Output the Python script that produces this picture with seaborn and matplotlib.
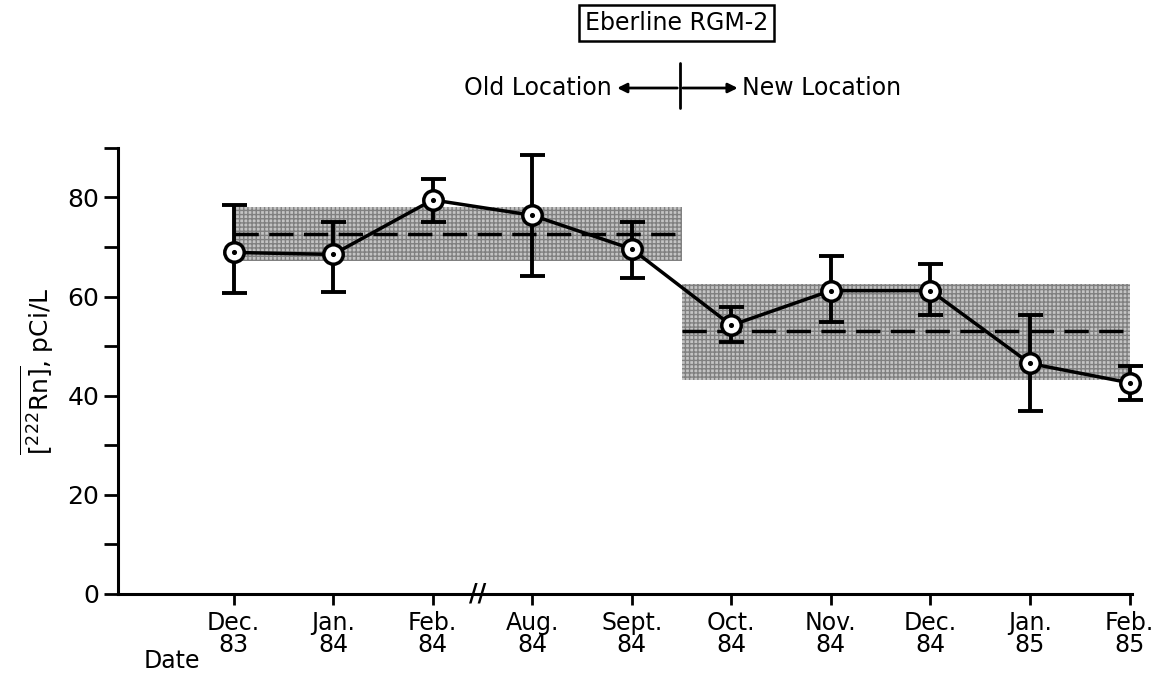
import numpy as np
import pandas as pd
import matplotlib
matplotlib.use("Agg")
import matplotlib.pyplot as plt
import seaborn as sns

# -------------------------------
# Data
months = ["Dec.\n83", "Jan.\n84", "Feb.\n84", "Aug.\n84", "Sept.\n84",
          "Oct.\n84", "Nov.\n84", "Dec.\n84", "Jan.\n85", "Feb.\n85"]
radon = [68.9, 68.5, 79.5, 76.4, 69.6, 54.2, 61.2, 61.2, 46.5, 42.6]
err_hi = [78.4, 75.1, 83.8, 88.5, 75.1, 57.8, 68.1, 66.5, 56.2, 45.9]
err_lo = [60.7, 60.9, 75.1, 64.1, 63.8, 50.8, 54.8, 56.2, 37.0, 39.1]

# mean +/- band for each location
old_band = [67.1, 72.7, 78.0]   # low, mean, high
new_band = [43.1, 53.1, 62.6]

df = pd.DataFrame({"pos": np.arange(len(months)), "radon": radon,
                   "hi": err_hi, "lo": err_lo})

# -------------------------------
sns.set_style("ticks")
plt.rcParams['font.family'] = ['DejaVu Sans']
plt.rcParams.update({"text.color": "black", "axes.labelcolor": "black",
                     "xtick.color": "black", "ytick.color": "black",
                     "axes.edgecolor": "black"})

fig = plt.figure(figsize=(11.57, 6.77), dpi=100)
ax = fig.add_axes([0.102, 0.1226, 0.876, 0.659])

# shaded bands (old location / new location)
ax.fill_between([0, 4.5], old_band[0], old_band[2], color="#c4c4c4",
                hatch="++++", edgecolor="#808080", linewidth=0, zorder=1)
ax.fill_between([4.5, 9], new_band[0], new_band[2], color="#c4c4c4",
                hatch="++++", edgecolor="#808080", linewidth=0, zorder=1)
ax.plot([0, 4.5], [old_band[1]] * 2, color="black", lw=2.5,
        dashes=(7, 3), zorder=2)
ax.plot([4.5, 9], [new_band[1]] * 2, color="black", lw=2.5,
        dashes=(7, 3), zorder=2)

# error bars
yerr = [df["radon"] - df["lo"], df["hi"] - df["radon"]]
ax.errorbar(df["pos"], df["radon"], yerr=yerr, fmt="none", ecolor="black",
            elinewidth=2.8, capsize=9, capthick=2.8, zorder=3, clip_on=False)

# line with open circle markers
sns.lineplot(data=df, x="pos", y="radon", ax=ax, color="black", lw=2.5,
             marker="o", markersize=14, markerfacecolor="white",
             markeredgecolor="black", markeredgewidth=2.5, zorder=4,
             clip_on=False)
ax.scatter(df["pos"], df["radon"], s=7, color="black", zorder=5, clip_on=False)

# axes styling
ax.set_xlim(-1.16, 9.02)
ax.set_ylim(0, 90)
ax.set_xticks(df["pos"])
ax.set_xticklabels(months, fontsize=17, linespacing=0.9)
ax.set_yticks([0, 20, 40, 60, 80])
ax.set_yticks([10, 30, 50, 70, 90], minor=True)
ax.tick_params(axis="y", which="both", length=10, width=2, labelsize=18)
ax.tick_params(axis="x", length=8, width=2, pad=4)
for s in ["left", "bottom"]:
    ax.spines[s].set_linewidth(2.2)
sns.despine(ax=ax)
ax.set_xlabel("")
ax.set_ylabel(r"$\overline{[^{222}\mathrm{Rn}]}$, pCi/L", fontsize=18,
              labelpad=8)

# axis break mark
ax.text(2.45, 0, "//", fontsize=17, ha="center", va="center",
        fontweight="bold", transform=ax.transData, clip_on=False)
ax.text(-0.62, -13.5, "Date", fontsize=17, ha="center", va="center",
        clip_on=False)

# header annotations
fig.text(0.585, 0.966, "Eberline RGM-2", fontsize=17, ha="center",
         va="center", bbox=dict(boxstyle="square,pad=0.25", fc="white",
                                ec="black", lw=1.8))
fig.text(0.529, 0.87, "Old Location", fontsize=17, ha="right", va="center")
fig.text(0.641, 0.87, "New Location", fontsize=17, ha="left", va="center")
fig.add_artist(plt.Line2D([0.5878, 0.5878], [0.84, 0.907], color="black",
                          lw=2, transform=fig.transFigure))
fig.patches.append(matplotlib.patches.FancyArrowPatch(
    (0.5878, 0.87), (0.531, 0.87), transform=fig.transFigure,
    arrowstyle="-|>", mutation_scale=14, lw=2, color="black"))
fig.patches.append(matplotlib.patches.FancyArrowPatch(
    (0.5878, 0.87), (0.640, 0.87), transform=fig.transFigure,
    arrowstyle="-|>", mutation_scale=14, lw=2, color="black"))

plt.savefig("out.png", dpi=100)
